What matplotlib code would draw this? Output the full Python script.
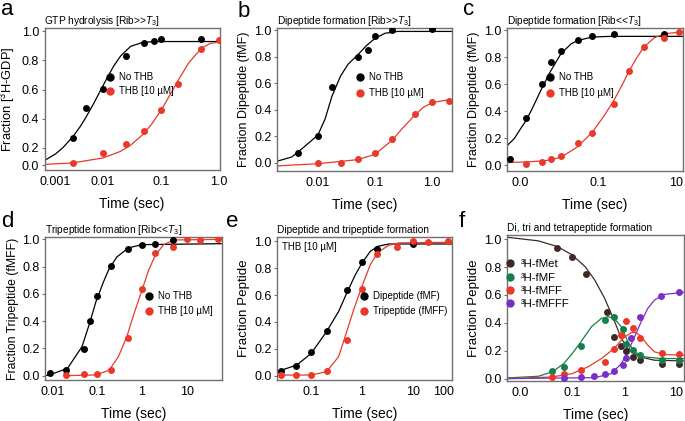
import matplotlib
matplotlib.use("Agg")
import matplotlib.pyplot as plt
from matplotlib.ticker import FixedLocator, NullLocator

plt.rcParams['font.family'] = ['Liberation Sans', 'DejaVu Sans']
plt.rcParams['mathtext.fontset'] = 'custom'
plt.rcParams['mathtext.rm'] = 'Liberation Sans'
plt.rcParams['mathtext.it'] = 'Liberation Sans:italic'

BLACK = '#000000'
RED = '#e8392b'
BROWN = '#3e2a24'
GREEN = '#13804a'
ORANGE_RED = '#e8392b'
PURPLE = '#7b2fc4'

# ---- panel a : GTP hydrolysis ----
a_t_black = [0.003, 0.005, 0.01, 0.025, 0.05, 0.075, 0.1, 0.5]
a_y_black = [0.27, 0.47, 0.605, 0.83, 0.92, 0.935, 0.947, 0.947]
a_t_red = [0.003, 0.01, 0.025, 0.05, 0.1, 0.2, 0.5, 1.0]
a_y_red = [0.093, 0.161, 0.225, 0.314, 0.456, 0.639, 0.879, 0.938]
a_fit_t_black = [0.00095, 0.0015, 0.002, 0.003, 0.004, 0.005, 0.007, 0.01, 0.015, 0.02, 0.03, 0.05, 0.1, 1.02]
a_fit_y_black = [0.11, 0.157, 0.199, 0.276, 0.344, 0.406, 0.51, 0.628, 0.757, 0.83, 0.897, 0.926, 0.93, 0.93]
a_fit_t_red = [0.00095, 0.003, 0.01, 0.02, 0.03, 0.05, 0.07, 0.1, 0.15, 0.2, 0.3, 0.5, 0.7, 1.02]
a_fit_y_red = [0.085, 0.096, 0.13, 0.175, 0.218, 0.295, 0.365, 0.456, 0.576, 0.665, 0.782, 0.883, 0.916, 0.928]

# ---- panel b : dipeptide, Rib >> T3 ----
b_t_black = [0.0045, 0.01, 0.018, 0.05, 0.075, 0.1, 0.2, 1.0]
b_y_black = [0.076, 0.203, 0.57, 0.797, 0.853, 0.954, 1.005, 1.008]
b_t_red = [0.01, 0.025, 0.05, 0.1, 0.2, 0.5, 1.0, 2.0]
b_y_red = [-0.003, 0.0, 0.025, 0.073, 0.182, 0.367, 0.456, 0.468]
b_fit_t_black = [0.0019, 0.0035, 0.0053, 0.01, 0.0134, 0.0176, 0.025, 0.034, 0.05, 0.071, 0.1, 0.15, 0.25, 2.3]
b_fit_y_black = [0.01, 0.043, 0.106, 0.208, 0.33, 0.5, 0.655, 0.745, 0.815, 0.885, 0.94, 0.978, 0.992, 0.992]
b_fit_t_red = [0.0019, 0.01, 0.05, 0.1, 0.2, 0.3, 0.5, 0.7, 1.0, 1.5, 2.3]
b_fit_y_red = [-0.025, -0.008, 0.023, 0.063, 0.17, 0.258, 0.36, 0.418, 0.453, 0.468, 0.478]

# ---- panel c : dipeptide, Rib << T3 ----
c_t_black = [0.00055, 0.0014, 0.0035, 0.006, 0.011, 0.03, 0.07, 0.25, 5.0]
c_y_black = [0.049, 0.348, 0.6, 0.765, 0.847, 0.931, 0.956, 0.975, 0.975]
c_t_red = [0.0014, 0.0035, 0.006, 0.011, 0.03, 0.07, 0.25, 0.6, 1.5, 5.0, 12.0]
c_y_red = [0.012, 0.022, 0.044, 0.072, 0.165, 0.24, 0.452, 0.7, 0.877, 0.946, 0.988]
c_fit_t_black = [0.00042, 0.0007, 0.001, 0.0014, 0.002, 0.0035, 0.006, 0.011, 0.02, 0.03, 0.07, 0.2, 15]
c_fit_y_black = [0.136, 0.2, 0.27, 0.333, 0.42, 0.568, 0.70, 0.827, 0.9, 0.925, 0.95, 0.955, 0.955]
c_fit_t_red = [0.00041, 0.00135, 0.0034, 0.006, 0.0113, 0.029, 0.071, 0.143, 0.25, 0.385, 0.6, 0.94, 1.49, 2.8, 5.1, 15]
c_fit_y_red = [0.02, 0.025, 0.032, 0.04, 0.062, 0.136, 0.247, 0.37, 0.48, 0.58, 0.69, 0.79, 0.877, 0.946, 0.975, 0.988]

# ---- panel d : tripeptide ----
d_t_black = [0.0087, 0.02, 0.05, 0.07, 0.1, 0.2, 0.5, 1, 2, 5]
d_y_black = [0.017, 0.041, 0.195, 0.402, 0.585, 0.802, 0.932, 0.956, 0.963, 0.998]
d_t_red = [0.02, 0.05, 0.1, 0.2, 0.5, 1, 2, 5, 10, 20, 50]
d_y_red = [0.005, 0.012, 0.012, 0.041, 0.273, 0.639, 0.9, 0.946, 1.0, 0.993, 1.0]
d_fit_t_black = [0.0072, 0.0087, 0.022, 0.046, 0.068, 0.094, 0.139, 0.186, 0.277, 0.5, 1, 61]
d_fit_y_black = [0.0, 0.005, 0.054, 0.212, 0.383, 0.541, 0.688, 0.785, 0.871, 0.937, 0.961, 0.968]
d_fit_t_red = [0.0194, 0.094, 0.186, 0.30, 0.46, 0.65, 1.0, 1.41, 1.99, 3.05, 5.1, 61]
d_fit_y_red = [0.0, 0.005, 0.04, 0.14, 0.285, 0.444, 0.627, 0.773, 0.883, 0.961, 0.995, 1.0]

# ---- panel e : di- and tripeptide with THB ----
e_t_di = [0.025, 0.05, 0.1, 0.2, 0.5, 1, 2, 10]
e_y_di = [0.037, 0.075, 0.179, 0.336, 0.634, 0.843, 0.943, 0.98]
e_t_tri = [0.025, 0.05, 0.1, 0.2, 0.5, 1, 2, 5, 10, 20, 50]
e_y_tri = [0.005, 0.005, 0.005, 0.037, 0.266, 0.644, 0.905, 0.955, 1.0, 0.995, 1.0]
e_fit_t_di = [0.021, 0.052, 0.1, 0.2, 0.346, 0.5, 0.74, 1.0, 1.46, 2.07, 3.4, 60]
e_fit_y_di = [0.03, 0.08, 0.167, 0.328, 0.478, 0.614, 0.751, 0.838, 0.925, 0.963, 0.98, 0.98]
e_fit_t_tri = [0.021, 0.1, 0.2, 0.346, 0.5, 0.685, 1.0, 1.46, 2.07, 3.36, 5.3, 60]
e_fit_y_tri = [0.005, 0.005, 0.03, 0.142, 0.328, 0.49, 0.664, 0.826, 0.918, 0.97, 0.988, 0.993]

# ---- panel f : di, tri and tetrapeptide ----
f_t_met = [0.052, 0.1, 0.18, 0.47, 0.635, 0.88, 1.09, 1.47, 1.97, 5.3, 11.4]
f_y_met = [0.935, 0.87, 0.75, 0.475, 0.295, 0.235, 0.2, 0.156, 0.132, 0.108, 0.108]
f_t_mf = [0.0415, 0.069, 0.147, 0.42, 0.625, 0.94, 1.09, 1.47, 1.97, 5.3, 11.4]
f_y_mf = [0.055, 0.084, 0.235, 0.42, 0.44, 0.355, 0.245, 0.204, 0.168, 0.137, 0.137]
f_t_mff = [0.0415, 0.069, 0.147, 0.42, 0.635, 0.88, 1.09, 1.47, 1.97, 5.3, 11.4]
f_y_mff = [0.012, 0.036, 0.065, 0.12, 0.216, 0.31, 0.41, 0.36, 0.29, 0.185, 0.18]
f_t_mfff = [0.069, 0.147, 0.26, 0.42, 0.625, 0.94, 1.09, 1.36, 1.97, 5.1, 11.4]
f_y_mfff = [0.005, 0.014, 0.017, 0.036, 0.053, 0.1, 0.15, 0.29, 0.44, 0.59, 0.62]
f_fit_t_met = [0.0056, 0.0224, 0.052, 0.1, 0.18, 0.271, 0.42, 0.635, 0.877, 1.17, 1.97, 3.8, 14]
f_fit_y_met = [1.014, 0.988, 0.947, 0.887, 0.80, 0.707, 0.575, 0.42, 0.288, 0.216, 0.156, 0.132, 0.127]
f_fit_t_mf = [0.0056, 0.0224, 0.0415, 0.069, 0.1, 0.147, 0.234, 0.364, 0.488, 0.635, 0.877, 1.17, 1.57, 2.45, 5.1, 14]
f_fit_y_mf = [0.005, 0.017, 0.048, 0.108, 0.18, 0.264, 0.372, 0.432, 0.444, 0.432, 0.372, 0.264, 0.192, 0.156, 0.144, 0.144]
f_fit_t_mff = [0.0056, 0.0415, 0.1, 0.2, 0.364, 0.635, 0.94, 1.36, 1.69, 2.11, 2.83, 3.8, 5.9, 14]
f_fit_y_mff = [0.0, 0.012, 0.036, 0.084, 0.144, 0.216, 0.288, 0.33, 0.33, 0.30, 0.24, 0.192, 0.173, 0.168]
f_fit_t_mfff = [0.0056, 0.271, 0.565, 0.877, 1.17, 1.57, 2.11, 2.83, 3.8, 5.9, 14]
f_fit_y_mfff = [0.0, 0.007, 0.036, 0.108, 0.192, 0.30, 0.408, 0.504, 0.564, 0.604, 0.619]

W, H = 685, 421
fig = plt.figure(figsize=(W / 100, H / 100), dpi=100)


def make_axes(left, top, right, bottom):
    ax = fig.add_axes([left / W, 1 - bottom / H, (right - left) / W, (bottom - top) / H])
    ax.set_xscale('log')
    for s in ax.spines.values():
        s.set_color('#707070')
        s.set_linewidth(1.0)
    ax.xaxis.set_minor_locator(NullLocator())
    ax.tick_params(axis='x', length=0, labelsize=9, pad=4)
    ax.tick_params(axis='y', length=2, width=0.8, color='#707070', labelsize=9, pad=2)
    ax.set_xlabel('Time (sec)', fontsize=10, labelpad=7)
    return ax


def scatter(ax, t, y, c, lab=None):
    ax.plot(t, y, 'o', color=c, ms=5, mec='none', label=lab, zorder=3)


def curve(ax, t, y, c):
    ax.plot(t, y, '-', color=c, lw=0.9, zorder=2)


def set_x(ax, lim, ticks, labels):
    ax.set_xlim(*lim)
    ax.xaxis.set_major_locator(FixedLocator(ticks))
    ax.set_xticklabels(labels)


def set_y(ax, lim, ticks, labels):
    ax.set_ylim(*lim)
    ax.yaxis.set_major_locator(FixedLocator(ticks))
    ax.set_yticklabels(labels)


def title(ax, s):
    ax.set_title(s, loc='left', fontsize=7.3, pad=3)


def legend(ax, x, y, spacing=0.4, size=7):
    ax.legend(loc='upper left', bbox_to_anchor=(x, y), frameon=False, fontsize=size,
              handlelength=0.6, handletextpad=0.6, borderpad=0, borderaxespad=0,
              labelspacing=spacing, markerscale=1.2)


yt = [0.0, 0.2, 0.4, 0.6, 0.8, 1.0]
ytl = ['0.0', '0.2', '0.4', '0.6', '0.8', '1.0']

# a
ax = make_axes(44.5, 28, 219.5, 170)
curve(ax, a_fit_t_black, a_fit_y_black, BLACK)
curve(ax, a_fit_t_red, a_fit_y_red, RED)
scatter(ax, a_t_black, a_y_black, BLACK, 'No THB')
scatter(ax, a_t_red, a_y_red, RED, 'THB [10 \u00b5M]')
set_x(ax, (0.00097, 1.03), [0.0015, 0.01, 0.1, 1.0], ['0.001', '0.01', '0.1', '1.0'])
set_y(ax, (0.047, 1.023), [0.081, 0.2, 0.4, 0.6, 0.8, 1.0], ytl)
ax.set_ylabel('Fraction [$^3$H-GDP]', fontsize=9.3)
ax.yaxis.set_label_coords(-0.158, 0.5)
title(ax, 'GTP hydrolysis [Rib>>$T_3$]')
legend(ax, 0.36, 0.69)

# b
ax = make_axes(277, 28, 452, 171)
curve(ax, b_fit_t_black, b_fit_y_black, BLACK)
curve(ax, b_fit_t_red, b_fit_y_red, RED)
scatter(ax, b_t_black, b_y_black, BLACK, 'No THB')
scatter(ax, b_t_red, b_y_red, RED, 'THB [10 \u00b5M]')
set_x(ax, (0.00193, 2.23), [0.01, 0.1, 1.0], ['0.01', '0.1', '1.0'])
set_y(ax, (-0.063, 1.018), yt, ytl)
ax.set_ylabel('Fraction Dipeptide (fMF)', fontsize=9, labelpad=3)
title(ax, 'Dipeptide formation [Rib>>$T_3$]')
legend(ax, 0.46, 0.69, 0.6)

# c
ax = make_axes(507, 28, 683, 171)
curve(ax, c_fit_t_black, c_fit_y_black, BLACK)
curve(ax, c_fit_t_red, c_fit_y_red, RED)
scatter(ax, c_t_black, c_y_black, BLACK, 'No THB')
scatter(ax, c_t_red, c_y_red, RED, 'THB [10 \u00b5M]')
set_x(ax, (0.00045, 15), [0.001, 0.1, 10], ['0.0', '0.1', '10'])
set_y(ax, (-0.042, 1.017), yt, ytl)
ax.set_ylabel('Fraction Dipeptide (fMF)', fontsize=9, labelpad=3)
title(ax, 'Dipeptide formation [Rib<<$T_3$]')
legend(ax, 0.23, 0.69, 0.6)

# d
ax = make_axes(45, 237, 222, 380)
curve(ax, d_fit_t_black, d_fit_y_black, BLACK)
curve(ax, d_fit_t_red, d_fit_y_red, RED)
scatter(ax, d_t_black, d_y_black, BLACK, 'No THB')
scatter(ax, d_t_red, d_y_red, RED, 'THB [10 \u00b5M]')
set_x(ax, (0.0069, 61), [0.01, 0.1, 1, 10], ['0.01', '0.1', '1', '10'])
set_y(ax, (-0.032, 1.017), yt, ytl)
ax.set_ylabel('Fraction Tripeptide (fMFF)', fontsize=8.8, labelpad=2)
title(ax, 'Tripeptide formation [Rib<<$T_3$]')
legend(ax, 0.57, 0.62, 0.5)

# e
ax = make_axes(277, 237, 452, 380)
curve(ax, e_fit_t_di, e_fit_y_di, BLACK)
curve(ax, e_fit_t_tri, e_fit_y_tri, RED)
scatter(ax, e_t_di, e_y_di, BLACK, 'Dipeptide (fMF)')
scatter(ax, e_t_tri, e_y_tri, RED, 'Tripeptide (fMFF)')
set_x(ax, (0.021, 60), [0.1, 1, 10, 41], ['0.1', '1', '10', '100'])
set_y(ax, (-0.032, 1.032), yt, ytl)
ax.set_ylabel('Fraction Peptide', fontsize=9.6, labelpad=3)
title(ax, 'Dipeptide and tripeptide formation')
ax.text(0.03, 0.965, 'THB [10 \u00b5M]', transform=ax.transAxes, fontsize=7, va='top', ha='left')
legend(ax, 0.48, 0.62, 0.5)

# f
ax = make_axes(507, 235, 684, 381)
curve(ax, f_fit_t_met, f_fit_y_met, BROWN)
curve(ax, f_fit_t_mf, f_fit_y_mf, GREEN)
curve(ax, f_fit_t_mff, f_fit_y_mff, ORANGE_RED)
curve(ax, f_fit_t_mfff, f_fit_y_mfff, PURPLE)
scatter(ax, f_t_met, f_y_met, BROWN, '\u00b3H-fMet')
scatter(ax, f_t_mf, f_y_mf, GREEN, '\u00b3H-fMF')
scatter(ax, f_t_mff, f_y_mff, ORANGE_RED, '\u00b3H-fMFF')
scatter(ax, f_t_mfff, f_y_mfff, PURPLE, '\u00b3H-fMFFF')
set_x(ax, (0.0056, 14), [0.01, 0.1, 1, 10], ['0.0', '0.1', '1', '10'])
set_y(ax, (-0.017, 1.03), yt, ytl)
ax.set_ylabel('Fraction Peptide', fontsize=9.6, labelpad=3)
title(ax, 'Di, tri and tetrapeptide formation')
legend(ax, 0.0, 0.835, 0.3, 8.2)

# panel letters
for s, x, y in [('a', 1, 15), ('b', 238, 17), ('c', 463, 15),
                ('d', 1, 227), ('e', 226, 227), ('f', 459, 227)]:
    fig.text(x / W, 1 - y / H, s, fontsize=16, va='baseline', ha='left')

fig.savefig('out.png', dpi=100)
